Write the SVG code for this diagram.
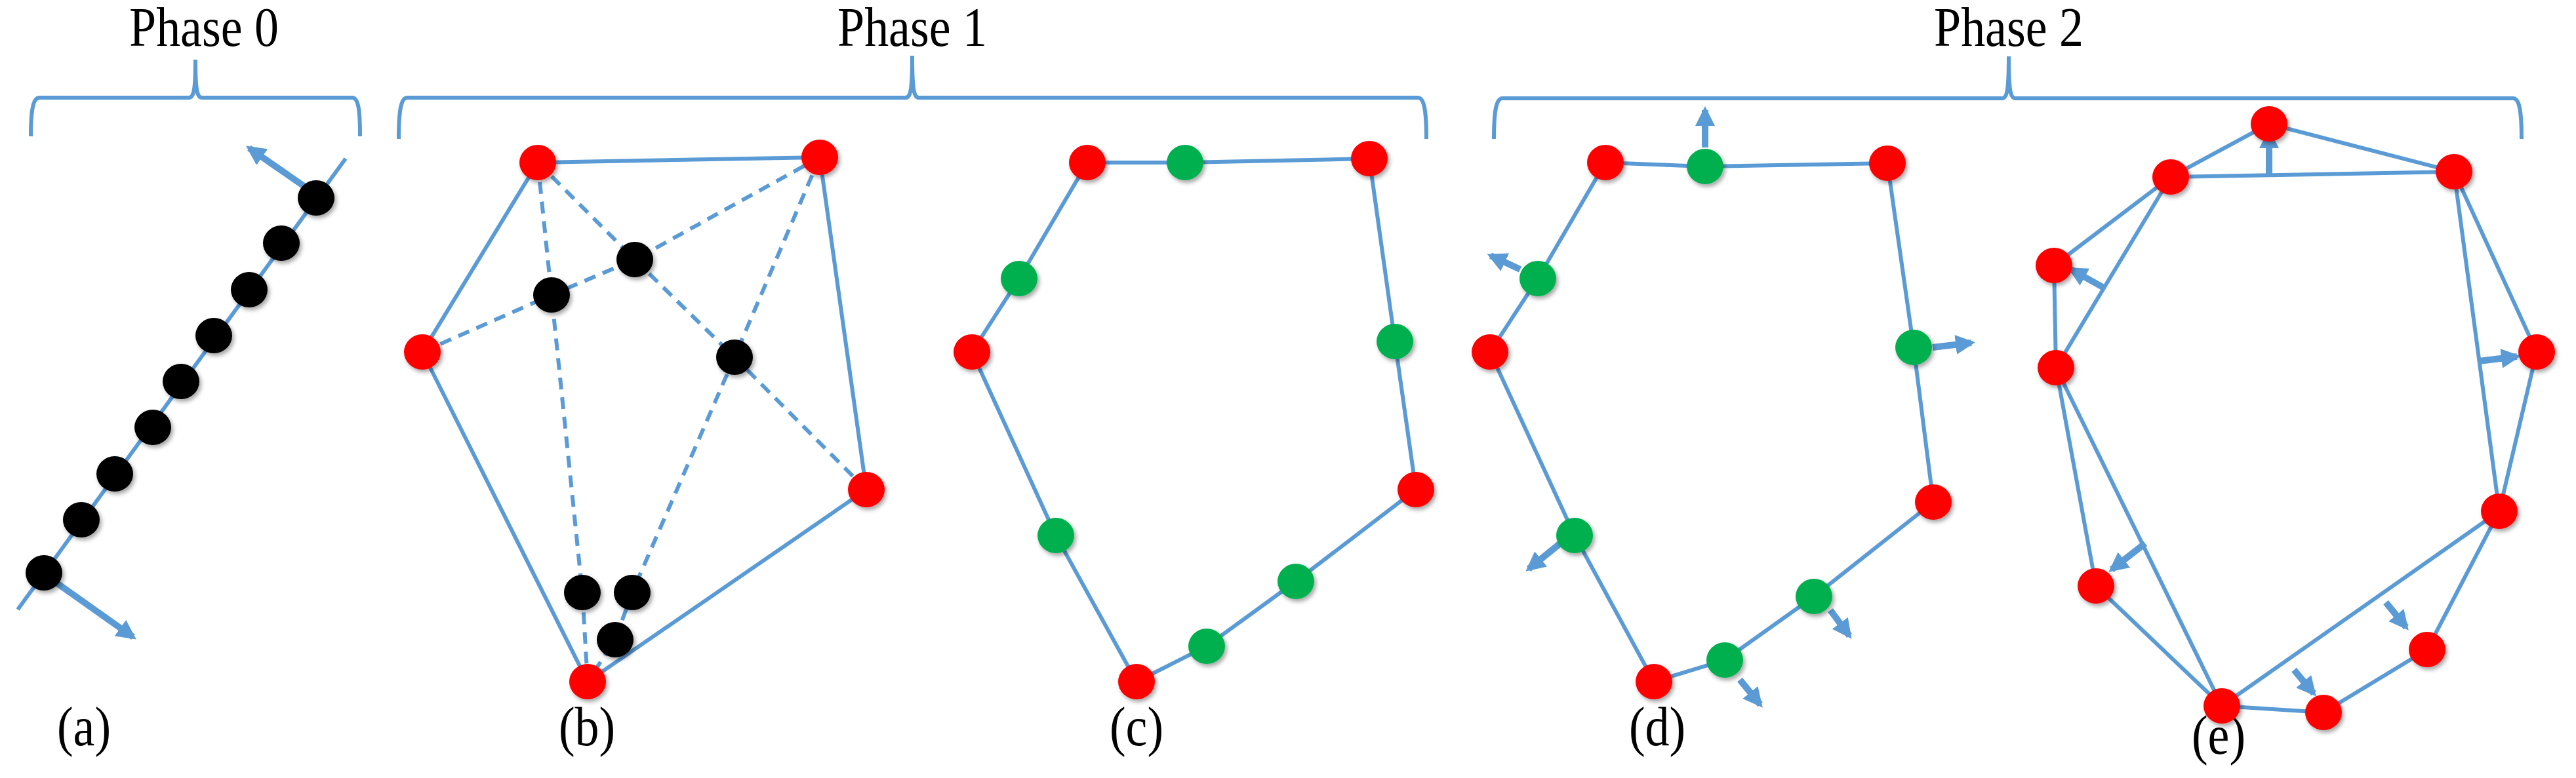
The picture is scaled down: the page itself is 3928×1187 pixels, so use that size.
<svg xmlns="http://www.w3.org/2000/svg" width="3928" height="1187" viewBox="0 0 3928 1187">
<style>
.t{font-family:"Liberation Serif","Times New Roman",serif;font-size:84px;fill:#000;text-anchor:middle}
.br{fill:none;stroke:#5B9BD5;stroke-width:6}
.e{stroke:#5B9BD5;stroke-width:6;fill:none}
.d{stroke:#5B9BD5;stroke-width:6;fill:none;stroke-dasharray:18 12}
.a{stroke:#5B9BD5;stroke-width:10;fill:none;marker-end:url(#ah)}
.r{fill:#FF0000;filter:url(#sh)}
.g{fill:#00B050;filter:url(#sh)}
.k{fill:#000;filter:url(#sh)}
</style>
<defs>
<marker id="ah" viewBox="0 0 10 10" refX="8" refY="5" markerWidth="3" markerHeight="3" orient="auto" markerUnits="strokeWidth"><path d="M0,0 L10,5 L0,10 z" fill="#5B9BD5"/></marker>
<filter id="sh" x="-30%" y="-30%" width="170%" height="170%"><feDropShadow dx="3" dy="4" stdDeviation="3" flood-color="#000" flood-opacity="0.35"/></filter>
</defs>
<rect width="3928" height="1187" fill="#fff"/>
<g id="labels">
<text class="t" transform="translate(311,70) scale(0.88,1)">Phase 0</text>
<text class="t" transform="translate(1391,70) scale(0.88,1)">Phase 1</text>
<text class="t" transform="translate(3063,70) scale(0.88,1)">Phase 2</text>
<text class="t" transform="translate(128,1137) scale(0.88,1)">(a)</text>
<text class="t" transform="translate(895,1137) scale(0.88,1)">(b)</text>
<text class="t" transform="translate(1733,1137) scale(0.88,1)">(c)</text>
<text class="t" transform="translate(2527,1137) scale(0.88,1)">(d)</text>
<text class="t" transform="translate(3383,1150) scale(0.88,1)">(e)</text>
</g>
<g id="braces">
<path class="br" d="M47,208 C47,170 50,149 60,149 L288,149 C295,149 298,140 298,91 C298,140 301,149 308,149 L537,149 C547,149 549,170 549,208"/>
<path class="br" d="M608,212 C608,170 611,149 621,149 L1381,149 C1388,149 1391,140 1391,85 C1391,140 1394,149 1401,149 L2162,149 C2172,149 2175,170 2175,212"/>
<path class="br" d="M2278,212 C2278,170 2281,150 2291,150 L3053,150 C3060,150 3063,140 3063,86 C3063,140 3066,150 3073,150 L3832,150 C3842,150 3845,170 3845,212"/>
</g>
<g id="connectors">
<line class="e" x1="27" y1="930" x2="527" y2="242"/>
<line class="a" x1="465" y1="285" x2="380" y2="226"/>
<line class="a" x1="83" y1="887" x2="203" y2="972"/>
<polyline class="e" points="820,248 1250,240 1321,747 896,1040 644,537 820,248"/>
<polyline class="d" points="644,537 841,450 968,396 1250,240"/>
<polyline class="d" points="820,248 968,396 1120,545 1321,747"/>
<polyline class="d" points="820,248 841,450 888,904 896,1040"/>
<polyline class="d" points="1250,240 1120,545 964,904 938,976 896,1040"/>
<polyline class="e" points="1658,248 1807,248 2088,242 2127,521 2159,747 1976,887 1840,986 1733,1040 1610,817 1482,537 1554,425 1658,248"/>
<polyline class="e" points="2448,248 2600,254 2878,249 2918,530 2948,766 2766,910 2630,1007 2522,1040 2401,817 2272,537 2345,425 2448,248"/>
<line class="a" x1="2600" y1="225" x2="2600" y2="168"/>
<line class="a" x1="2318" y1="411" x2="2273" y2="390"/>
<line class="a" x1="2378" y1="830" x2="2331" y2="868"/>
<line class="a" x1="2947" y1="530" x2="3006" y2="523"/>
<line class="a" x1="2791" y1="931" x2="2820" y2="970"/>
<line class="a" x1="2653" y1="1037" x2="2684" y2="1075"/>
<polyline class="e" points="3310,270 3460,189 3742,262 3310,270"/>
<line class="e" x1="3310" y1="270" x2="3132" y2="405"/>
<line class="e" x1="3310" y1="270" x2="3135" y2="561"/>
<line class="e" x1="3132" y1="405" x2="3135" y2="561"/>
<line class="e" x1="3742" y1="262" x2="3868" y2="537"/>
<line class="e" x1="3742" y1="262" x2="3811" y2="780"/>
<line class="e" x1="3868" y1="537" x2="3811" y2="780"/>
<line class="e" x1="3135" y1="561" x2="3196" y2="894"/>
<line class="e" x1="3135" y1="561" x2="3388" y2="1077"/>
<line class="e" x1="3196" y1="894" x2="3388" y2="1077"/>
<line class="e" x1="3811" y1="780" x2="3388" y2="1077"/>
<line class="e" x1="3811" y1="780" x2="3701" y2="991"/>
<line class="e" x1="3701" y1="991" x2="3543" y2="1087"/>
<line class="e" x1="3388" y1="1077" x2="3543" y2="1087"/>
<line class="a" x1="3460" y1="266" x2="3460" y2="202"/>
<line class="a" x1="3208" y1="439" x2="3158" y2="411"/>
<line class="a" x1="3780" y1="551" x2="3838" y2="544"/>
<line class="a" x1="3271" y1="829" x2="3220" y2="869"/>
<line class="a" x1="3638" y1="919" x2="3669" y2="957"/>
<line class="a" x1="3498" y1="1022" x2="3528" y2="1058"/>
</g>
<g id="nodes-a">
<ellipse class="k" cx="482" cy="302" rx="28" ry="27"/>
<ellipse class="k" cx="429" cy="371" rx="28" ry="27"/>
<ellipse class="k" cx="380" cy="442" rx="28" ry="27"/>
<ellipse class="k" cx="326" cy="512" rx="28" ry="27"/>
<ellipse class="k" cx="276" cy="582" rx="28" ry="27"/>
<ellipse class="k" cx="233" cy="652" rx="28" ry="27"/>
<ellipse class="k" cx="175" cy="723" rx="28" ry="27"/>
<ellipse class="k" cx="124" cy="793" rx="28" ry="27"/>
<ellipse class="k" cx="67" cy="874" rx="28" ry="27"/>
</g>
<g id="nodes-b">
<ellipse class="r" cx="820" cy="248" rx="28" ry="27"/>
<ellipse class="r" cx="1250" cy="240" rx="28" ry="27"/>
<ellipse class="r" cx="644" cy="537" rx="28" ry="27"/>
<ellipse class="r" cx="1321" cy="747" rx="28" ry="27"/>
<ellipse class="r" cx="896" cy="1040" rx="28" ry="27"/>
<ellipse class="k" cx="968" cy="396" rx="28" ry="27"/>
<ellipse class="k" cx="841" cy="450" rx="28" ry="27"/>
<ellipse class="k" cx="1120" cy="545" rx="28" ry="27"/>
<ellipse class="k" cx="888" cy="904" rx="28" ry="27"/>
<ellipse class="k" cx="964" cy="904" rx="28" ry="27"/>
<ellipse class="k" cx="938" cy="976" rx="28" ry="27"/>
</g>
<g id="nodes-c">
<ellipse class="r" cx="1658" cy="248" rx="28" ry="27"/>
<ellipse class="r" cx="2088" cy="242" rx="28" ry="27"/>
<ellipse class="r" cx="1482" cy="537" rx="28" ry="27"/>
<ellipse class="r" cx="2159" cy="747" rx="28" ry="27"/>
<ellipse class="r" cx="1733" cy="1040" rx="28" ry="27"/>
<ellipse class="g" cx="1807" cy="248" rx="28" ry="27"/>
<ellipse class="g" cx="1554" cy="425" rx="28" ry="27"/>
<ellipse class="g" cx="2127" cy="521" rx="28" ry="27"/>
<ellipse class="g" cx="1610" cy="817" rx="28" ry="27"/>
<ellipse class="g" cx="1976" cy="887" rx="28" ry="27"/>
<ellipse class="g" cx="1840" cy="986" rx="28" ry="27"/>
</g>
<g id="nodes-d">
<ellipse class="r" cx="2448" cy="248" rx="28" ry="27"/>
<ellipse class="r" cx="2878" cy="249" rx="28" ry="27"/>
<ellipse class="r" cx="2272" cy="537" rx="28" ry="27"/>
<ellipse class="r" cx="2948" cy="766" rx="28" ry="27"/>
<ellipse class="r" cx="2522" cy="1040" rx="28" ry="27"/>
<ellipse class="g" cx="2600" cy="254" rx="28" ry="27"/>
<ellipse class="g" cx="2345" cy="425" rx="28" ry="27"/>
<ellipse class="g" cx="2918" cy="530" rx="28" ry="27"/>
<ellipse class="g" cx="2401" cy="817" rx="28" ry="27"/>
<ellipse class="g" cx="2766" cy="910" rx="28" ry="27"/>
<ellipse class="g" cx="2630" cy="1007" rx="28" ry="27"/>
</g>
<g id="nodes-e">
<ellipse class="r" cx="3460" cy="189" rx="28" ry="27"/>
<ellipse class="r" cx="3310" cy="270" rx="28" ry="27"/>
<ellipse class="r" cx="3742" cy="262" rx="28" ry="27"/>
<ellipse class="r" cx="3132" cy="405" rx="28" ry="27"/>
<ellipse class="r" cx="3135" cy="561" rx="28" ry="27"/>
<ellipse class="r" cx="3868" cy="537" rx="28" ry="27"/>
<ellipse class="r" cx="3811" cy="780" rx="28" ry="27"/>
<ellipse class="r" cx="3196" cy="894" rx="28" ry="27"/>
<ellipse class="r" cx="3701" cy="991" rx="28" ry="27"/>
<ellipse class="r" cx="3388" cy="1077" rx="28" ry="27"/>
<ellipse class="r" cx="3543" cy="1087" rx="28" ry="27"/>
</g>
</svg>
